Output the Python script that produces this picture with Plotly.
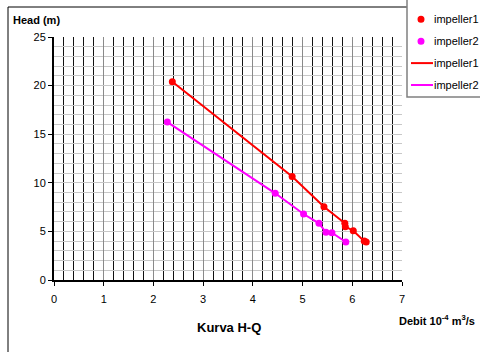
import plotly.graph_objects as go

# Measured flow (Debit, 10^-4 m^3/s) and head (m) for two impellers
q_imp1 = [2.38, 4.79, 5.43, 5.85, 5.86, 6.02, 6.24, 6.28]
h_imp1 = [20.4, 10.65, 7.54, 5.83, 5.49, 5.07, 4.0, 3.9]
q_imp2 = [2.28, 4.45, 5.02, 5.33, 5.47, 5.59, 5.87]
h_imp2 = [16.25, 8.92, 6.79, 5.83, 4.9, 4.87, 3.91]

x_ticks = [0, 1, 2, 3, 4, 5, 6, 7]
y_ticks = [0, 5, 10, 15, 20, 25]

series_names = ["impeller1", "impeller2"]

RED = "#ff0000"
MAGENTA = "#ff00ff"
colors = [RED, MAGENTA]
FONT = "Liberation Sans, Arial, sans-serif"

fig = go.Figure()
for q, h, name, col in zip([q_imp1, q_imp2], [h_imp1, h_imp2], series_names, colors):
    fig.add_trace(go.Scatter(x=q, y=h, mode="lines", name=name, showlegend=False,
                             line=dict(color=col, width=2)))
for q, h, name, col in zip([q_imp1, q_imp2], [h_imp1, h_imp2], series_names, colors):
    fig.add_trace(go.Scatter(x=q, y=h, mode="markers", name=name, showlegend=False,
                             marker=dict(color=col, size=7)))

W, H = 480, 352
L, R, T, B = 54, 78, 37, 72
pw, ph = W - L - R, H - T - B

def px_x(p):
    return (p - L) / pw

def px_y(p):
    return 1 - (p - T) / ph

shapes = [
    # outer chart frame
    dict(type="rect", xref="paper", yref="paper", layer="below",
         x0=px_x(8), x1=px_x(490), y0=px_y(7), y1=px_y(365),
         line=dict(color="black", width=1), fillcolor="white"),
    # legend box
    dict(type="rect", xref="paper", yref="paper", layer="above",
         x0=px_x(407), x1=px_x(495), y0=px_y(-5), y1=px_y(97),
         line=dict(color="#808080", width=1.5), fillcolor="white"),
]
annotations = [
    dict(text="<b>Head (m)</b>", xref="paper", yref="paper",
         x=px_x(11), y=px_y(20), xanchor="left", yanchor="middle",
         showarrow=False, font=dict(size=11)),
    dict(text="<b>Debit 10<sup>-4</sup> m<sup>3</sup>/s</b>", xref="paper", yref="paper",
         x=px_x(397), y=px_y(320), xanchor="left", yanchor="middle",
         showarrow=False, font=dict(size=11)),
    dict(text="<b>Kurva H-Q</b>", xref="paper", yref="paper",
         x=px_x(229), y=px_y(327), xanchor="center", yanchor="middle",
         showarrow=False, font=dict(size=13)),
]

# legend: marker entries first, then line entries
legend_rows = [("marker", n, c) for n, c in zip(series_names, colors)] + \
              [("line", n, c) for n, c in zip(series_names, colors)]
row_y = 19.3
r = 3.5
for kind, name, col in legend_rows:
    if kind == "marker":
        shapes.append(dict(type="circle", xref="paper", yref="paper", layer="above",
                           x0=px_x(421 - r), x1=px_x(421 + r),
                           y0=px_y(row_y + r), y1=px_y(row_y - r),
                           line=dict(width=0), fillcolor=col))
    else:
        shapes.append(dict(type="line", xref="paper", yref="paper", layer="above",
                           x0=px_x(411), x1=px_x(433), y0=px_y(row_y), y1=px_y(row_y),
                           line=dict(color=col, width=2)))
    annotations.append(dict(text=name, xref="paper", yref="paper",
                            x=px_x(434), y=px_y(row_y), xanchor="left", yanchor="middle",
                            showarrow=False, font=dict(size=11), xshift=-2))
    row_y += 21.9

fig.update_layout(
    width=W, height=H,
    margin=dict(l=L, r=R, t=T, b=B, autoexpand=False),
    paper_bgcolor="white", plot_bgcolor="white",
    font=dict(family=FONT, size=11, color="black"),
    showlegend=False,
    xaxis=dict(
        range=[0, 7], tickvals=x_ticks, ticks="outside", ticklen=4,
        tickcolor="black", showline=True, linecolor="black", linewidth=2,
        showgrid=True, gridcolor="#8a8a8a", gridwidth=1,
        minor=dict(dtick=0.2, showgrid=True, gridcolor="#111111", gridwidth=1),
        zeroline=False, fixedrange=True, ticklabelstandoff=4,
    ),
    yaxis=dict(
        range=[0, 25], tickvals=y_ticks, ticks="outside", ticklen=4,
        tickcolor="black", showline=True, linecolor="black", linewidth=2,
        showgrid=True, gridcolor="#c8c8c8", gridwidth=1,
        minor=dict(dtick=1, showgrid=True, gridcolor="#c8c8c8", gridwidth=1),
        zeroline=False, fixedrange=True,
    ),
    shapes=shapes,
    annotations=annotations,
)

fig.write_html("out.html")
